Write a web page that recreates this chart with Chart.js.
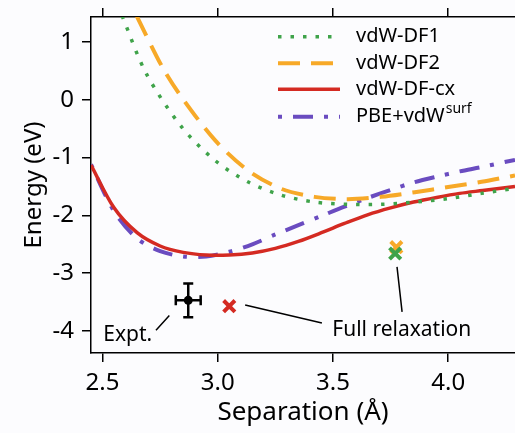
<!DOCTYPE html>
<html>
<head>
<meta charset="utf-8">
<script src="https://cdn.jsdelivr.net/npm/chart.js@4.4.0/dist/chart.umd.min.js"></script>
<style>
  html, body { margin: 0; padding: 0; background: #fcfcfe; }
  canvas { display: block; }
</style>
</head>
<body>
<canvas id="chart" width="515" height="433"></canvas>
<script>
// separation (Å) and energy (eV)
const sepCx = [2.45, 2.55, 2.65, 2.75, 2.85, 2.95, 3.05, 3.15, 3.25, 3.35, 3.45, 3.55, 3.65, 3.75, 3.85, 3.95, 4.05, 4.15, 4.29];
const energyCx = [-1.13, -1.87, -2.30, -2.53, -2.64, -2.685, -2.685, -2.65, -2.57, -2.45, -2.30, -2.14, -1.99, -1.87, -1.77, -1.69, -1.62, -1.57, -1.50];
const energySurf = [-1.12, -1.93, -2.40, -2.62, -2.71, -2.71, -2.63, -2.50, -2.33, -2.17, -2.01, -1.85, -1.70, -1.56, -1.43, -1.33, -1.24, -1.16, -1.04];

const sepDF2 = [2.648, 2.76, 2.843, 2.988, 3.13, 3.275, 3.42, 3.565, 3.71, 3.855, 4.0, 4.145, 4.29];
const energyDF2 = [1.45, 0.56, 0.045, -0.70, -1.22, -1.54, -1.68, -1.72, -1.68, -1.60, -1.51, -1.42, -1.31];

const sepDF1 = [2.585, 2.69, 2.843, 2.988, 3.13, 3.275, 3.42, 3.565, 3.71, 3.855, 4.0, 4.145, 4.29];
const energyDF1 = [1.45, 0.45, -0.47, -1.05, -1.42, -1.65, -1.77, -1.81, -1.81, -1.77, -1.71, -1.62, -1.53];

// full relaxation results
const relaxDF1 = [3.77, -2.66];
const relaxDF2 = [3.775, -2.55];
const relaxCx = [3.05, -3.57];

// experiment with error bars
const exptSep = 2.872, exptEnergy = -3.47;
const exptSepErr = 0.054, exptEnergyErr = 0.29;

const xTicks = [2.5, 3.0, 3.5, 4.0];
const yTicks = [-4, -3, -2, -1, 0, 1];

const FONT = '"Noto Sans", sans-serif';
Chart.defaults.font.family = FONT;
Chart.defaults.color = '#000';

function pts(xs, ys) {
    return xs.map((x, i) => ({ x: x, y: ys[i] }));
}

const GREEN = '#3fa34a';
const ORANGE = '#f7a928';
const RED = '#d42a22';
const PURPLE = '#6a4cc0';

// text labels and leader lines, in data units
const notes = [
    { text: 'Expt.', x: 2.503, y: -4.17 },
    { text: 'Full relaxation', x: 3.497, y: -4.09 }
];
const leaders = [
    [2.732, -3.985, 2.79, -3.73],
    [3.119, -3.55, 3.452, -3.86],
    [3.778, -2.89, 3.80, -3.67]
];

const extras = {
    id: 'extras',
    beforeDatasetsDraw(chart) {
        const ctx = chart.ctx, x = chart.scales.x, y = chart.scales.y;
        const cx = x.getPixelForValue(exptSep), cy = y.getPixelForValue(exptEnergy);
        const x0 = x.getPixelForValue(exptSep - exptSepErr), x1 = x.getPixelForValue(exptSep + exptSepErr);
        const y0 = y.getPixelForValue(exptEnergy + exptEnergyErr), y1 = y.getPixelForValue(exptEnergy - exptEnergyErr);
        ctx.save();
        ctx.strokeStyle = '#000';
        ctx.lineWidth = 2.5;
        ctx.beginPath();
        ctx.moveTo(x0, cy); ctx.lineTo(x1, cy);
        ctx.moveTo(cx, y0); ctx.lineTo(cx, y1);
        ctx.moveTo(x0, cy - 5); ctx.lineTo(x0, cy + 5);
        ctx.moveTo(x1, cy - 5); ctx.lineTo(x1, cy + 5);
        ctx.moveTo(cx - 5, y0); ctx.lineTo(cx + 5, y0);
        ctx.moveTo(cx - 5, y1); ctx.lineTo(cx + 5, y1);
        ctx.stroke();
        ctx.restore();
    },
    afterDatasetsDraw(chart) {
        const ctx = chart.ctx, x = chart.scales.x, y = chart.scales.y;
        ctx.save();
        ctx.strokeStyle = '#000';
        ctx.lineWidth = 1.5;
        ctx.beginPath();
        leaders.forEach(l => {
            ctx.moveTo(x.getPixelForValue(l[0]), y.getPixelForValue(l[1]));
            ctx.lineTo(x.getPixelForValue(l[2]), y.getPixelForValue(l[3]));
        });
        ctx.stroke();
        ctx.fillStyle = '#000';
        ctx.font = '21px ' + FONT;
        ctx.textBaseline = 'alphabetic';
        notes.forEach(n => {
            ctx.fillText(n.text, x.getPixelForValue(n.x), y.getPixelForValue(n.y));
        });

        // legend, top right
        const rows = [36.7, 63.3, 89.3, 116.7];
        chart.data.datasets.slice(0, 4).forEach((ds, i) => {
            const ry = rows[i];
            ctx.save();
            ctx.strokeStyle = ds.borderColor;
            ctx.lineWidth = ds.borderWidth;
            ctx.setLineDash(ds.borderDash || []);
            ctx.beginPath();
            ctx.moveTo(278, ry);
            ctx.lineTo(340, ry);
            ctx.stroke();
            ctx.restore();
            ctx.font = '20px ' + FONT;
            ctx.textBaseline = 'middle';
            ctx.fillText(ds.label, 356, ry);
            if (ds.sup) {
                const w = ctx.measureText(ds.label).width;
                ctx.font = '14px ' + FONT;
                ctx.fillText(ds.sup, 356 + w + 1, ry - 8);
            }
        });
        ctx.restore();
    }
};

function noPad(s) {
    s.paddingLeft = 0;
    s.paddingRight = 0;
    s.paddingTop = 0;
    s.paddingBottom = 0;
}

const axisLines = {
    grid: { drawOnChartArea: false, drawTicks: true, tickLength: 9, color: '#000', lineWidth: 1.5 },
    border: { display: true, color: '#000', width: 1.5 }
};

new Chart(document.getElementById('chart'), {
    type: 'scatter',
    data: {
        datasets: [
            {
                label: 'vdW-DF1', data: pts(sepDF1, energyDF1), showLine: true,
                borderColor: GREEN, borderWidth: 3.5, borderDash: [3.5, 9], pointRadius: 0, tension: 0.3
            },
            {
                label: 'vdW-DF2', data: pts(sepDF2, energyDF2), showLine: true,
                borderColor: ORANGE, borderWidth: 4, borderDash: [22, 11], pointRadius: 0, tension: 0.3
            },
            {
                label: 'vdW-DF-cx', data: pts(sepCx, energyCx), showLine: true,
                borderColor: RED, borderWidth: 3.5, pointRadius: 0, tension: 0.3
            },
            {
                label: 'PBE+vdW', sup: 'surf', data: pts(sepCx, energySurf), showLine: true,
                borderColor: PURPLE, borderWidth: 4, borderDash: [4, 11, 20, 11], pointRadius: 0, tension: 0.3
            },
            {
                label: 'relax DF1', data: [{ x: relaxDF1[0], y: relaxDF1[1] }],
                pointStyle: 'crossRot', pointRadius: 8, borderWidth: 4, borderColor: GREEN
            },
            {
                label: 'relax DF2', data: [{ x: relaxDF2[0], y: relaxDF2[1] }],
                pointStyle: 'crossRot', pointRadius: 8, borderWidth: 4, borderColor: ORANGE
            },
            {
                label: 'relax cx', data: [{ x: relaxCx[0], y: relaxCx[1] }],
                pointStyle: 'crossRot', pointRadius: 8, borderWidth: 4, borderColor: RED
            },
            {
                label: 'Expt.', data: [{ x: exptSep, y: exptEnergy }],
                pointStyle: 'circle', pointRadius: 4.5, borderWidth: 0, backgroundColor: '#000'
            }
        ]
    },
    options: {
        responsive: false,
        animation: false,
        layout: { padding: 0, autoPadding: false },
        plugins: { legend: { display: false }, tooltip: { enabled: false } },
        scales: {
            x: {
                type: 'linear', position: 'bottom', min: 2.45, max: 4.29,
                ...axisLines,
                afterBuildTicks: s => { s.ticks = xTicks.map(v => ({ value: v })); },
                afterFit: s => { s.height = 80; noPad(s); },
                ticks: { callback: v => v.toFixed(1), font: { size: 24 }, padding: 7, maxRotation: 0, autoSkip: false },
                title: { display: true, text: 'Separation (Å)', font: { size: 26 }, padding: { top: 0, bottom: 5 } }
            },
            xTop: {
                type: 'linear', position: 'top', min: 2.45, max: 4.29,
                ...axisLines,
                afterBuildTicks: s => { s.ticks = xTicks.map(v => ({ value: v })); },
                afterFit: s => { s.height = 17; noPad(s); },
                ticks: { display: false }
            },
            y: {
                type: 'linear', position: 'left', min: -4.38, max: 1.43,
                ...axisLines,
                afterBuildTicks: s => { s.ticks = yTicks.map(v => ({ value: v })); },
                afterFit: s => { s.width = 91; noPad(s); },
                ticks: { font: { size: 24 }, padding: 8, autoSkip: false },
                title: { display: true, text: 'Energy (eV)', font: { size: 24 }, padding: { top: 20, bottom: 0 } }
            }
        }
    },
    plugins: [extras]
});
</script>
</body>
</html>
